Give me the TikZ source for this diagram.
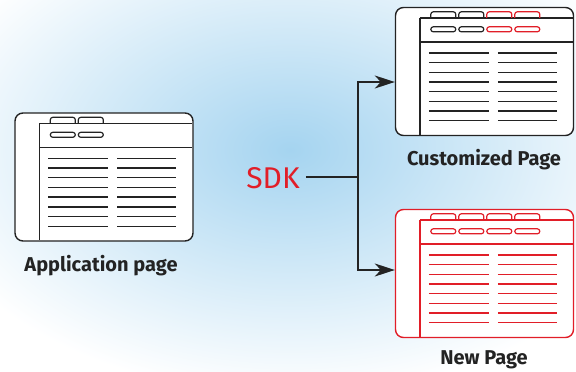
\documentclass[tikz,border=0pt]{standalone}
\usepackage{fontspec}
\setmainfont{Fira Sans}
\usetikzlibrary{arrows.meta}
\definecolor{ink}{RGB}{35,35,35}
\definecolor{sdkred}{RGB}{225,30,40}
\definecolor{haze}{RGB}{165,212,240}

\begin{document}
\begin{tikzpicture}[x=1pt,y=-1pt,
  win/.style={line width=1.4pt,rounded corners=8pt,minimum width=178pt,minimum height=128pt,inner sep=0pt,fill=white},
  tab/.style={line width=1.2pt,rounded corners=2.5pt},
  row/.style={line width=1.4pt},
  pagelabel/.style={font=\bfseries\fontsize{20}{24}\selectfont,text=ink},
  conn/.style={draw=ink,line width=1.3pt,-{Stealth[length=20pt,width=13pt,inset=6pt]}}]
\useasboundingbox (0,0) rectangle (576,372);
% soft blue glow
\begin{scope}
  \clip (0,0) rectangle (576,372);
  \shade[inner color=haze,outer color=white] (290,150) ellipse [x radius=380,y radius=245];
\end{scope}

% the three pages
\node[win,draw=ink] (app) at (104,177) {};
\node[win,draw=ink] (cust) at (484.5,71.5) {};
\node[win,draw=sdkred] (new) at (484.5,273.5) {};

\foreach \w/\fc/\tabs in {app/ink/{ink,ink},cust/ink/{ink,ink,sdkred,sdkred},new/sdkred/{sdkred,sdkred,sdkred,sdkred}}{
  \begin{scope}[shift={(\w.north west)},draw=\fc]
    \draw[row] (25,11) -- (25,128);
    \draw[row] (25,11) -- (178,11);
    \draw[row] (25,35) -- (178,35);
    \foreach \c [count=\k] in \tabs {
      \draw[tab,draw=\c] (8+28*\k,11) -- (8+28*\k,5) -- (33+28*\k,5) -- (33+28*\k,11);
      \draw[tab,draw=\c] (8+28*\k,20) rectangle (33+28*\k,25);
    }
    \foreach \i in {0,...,7}{
      \draw[row] (34,46+9.7*\i) -- (94,46+9.7*\i);
      \draw[row] (103,46+9.7*\i) -- (162,46+9.7*\i);
    }
  \end{scope}
}

\node[pagelabel] (applbl) at (101,266) {Application page};
\node[pagelabel] (custlbl) at (484,160) {Customized Page};
\node[pagelabel] (newlbl) at (484,360) {New Page};

% sdk and its fork
\node[font=\fontsize{30}{34}\selectfont,text=sdkred,inner sep=6pt] (sdk) at (273,178) {SDK};
\coordinate (fork) at (358,177);
\draw[ink,line width=1.3pt] (sdk.east |- fork) -- (fork);
\draw[conn] (fork) |- ([yshift=-10.5pt]cust.west);
\draw[conn] (fork) |- ([yshift=3.5pt]new.west);
\end{tikzpicture}
\end{document}
